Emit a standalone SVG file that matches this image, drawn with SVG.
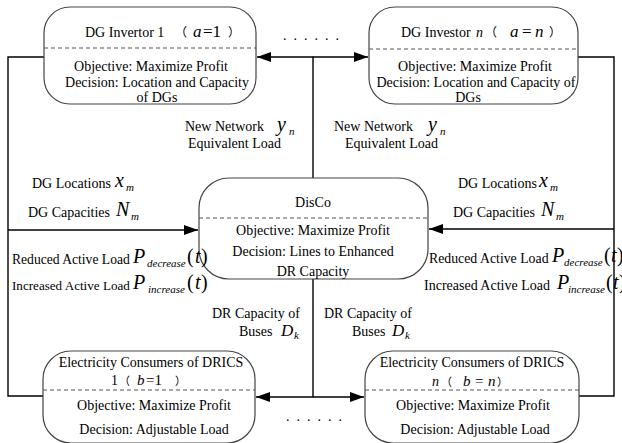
<svg xmlns="http://www.w3.org/2000/svg" width="622" height="443" viewBox="0 0 622 443">
<defs>
<marker id="arr" markerUnits="userSpaceOnUse" markerWidth="14" markerHeight="10" refX="14" refY="5" orient="auto">
<path d="M0,0 L14,5 L0,10 z" fill="#000"/>
</marker>
<style>
.box{fill:#fff;stroke:#444;stroke-width:1.2}
.dash{stroke:#555;stroke-width:1.1;stroke-dasharray:4,3;fill:none}
.line{stroke:#000;stroke-width:1.4;fill:none}
text{font-family:"Liberation Serif","Times New Roman","DejaVu Serif",serif;font-size:14px;fill:#000}
.m{font-style:italic}
.big{font-size:20px}
.mid{font-size:17px}
.sm{font-size:15px}
.sub{font-size:11px;font-style:italic}
.cjk{font-family:"Noto Sans CJK SC",sans-serif;font-size:12px;font-style:normal}
.cjks{font-family:"Noto Sans CJK SC",sans-serif;font-size:11px;font-style:normal}
.dots{font-size:14px;letter-spacing:7px}
</style>
</defs>
<rect width="622" height="443" fill="#fff"/>
<g id="connectors">
<path class="line" d="M313,179 V57 H257" marker-end="url(#arr)"/>
<path class="line" d="M313,57 H368" marker-end="url(#arr)"/>
<path class="line" d="M44,57 H8 V396 H43"/>
<path class="line" d="M8,230 H198" marker-end="url(#arr)"/>
<path class="line" d="M578,57 H614 V396 H579"/>
<path class="line" d="M614,229 H429" marker-end="url(#arr)"/>
<path class="line" d="M313,279 V397 H256" marker-end="url(#arr)"/>
<path class="line" d="M313,397 H364" marker-end="url(#arr)"/>
</g>
<g id="dg1">
<rect class="box" x="44" y="7" width="212" height="97" rx="26" ry="26"/>
<line class="dash" x1="44" y1="48" x2="256" y2="48"/>
<text x="85" y="37">DG  Invertor 1<tspan class="cjk" x="175">（</tspan><tspan class="m mid" x="193">a</tspan><tspan class="mid" x="203">=1</tspan><tspan class="cjk" x="228">）</tspan></text>
<text x="151" y="71" text-anchor="middle">Objective: Maximize Profit</text>
<text x="157" y="87" text-anchor="middle">Decision:  Location and Capacity</text>
<text x="157" y="102" text-anchor="middle">of DGs</text>
</g>
<g id="dgn">
<rect class="box" x="369" y="7" width="209" height="97" rx="26" ry="26"/>
<line class="dash" x1="369" y1="49" x2="578" y2="49"/>
<text x="401" y="37">DG  Investor<tspan class="m" x="476">n</tspan><tspan class="cjk" x="485">（</tspan><tspan class="m mid" x="510">a</tspan><tspan class="mid" x="522">=</tspan><tspan class="m mid" x="535">n</tspan><tspan class="cjk" x="549">）</tspan></text>
<text x="475" y="71" text-anchor="middle">Objective: Maximize Profit</text>
<text x="476" y="87" text-anchor="middle">Decision:  Location and Capacity of</text>
<text x="468" y="102" text-anchor="middle">DGs</text>
</g>
<g id="disco">
<rect class="box" x="199" y="178" width="229" height="101" rx="30" ry="30"/>
<line class="dash" x1="199" y1="218" x2="428" y2="218"/>
<text x="313" y="207" text-anchor="middle">DisCo</text>
<text x="313" y="235" text-anchor="middle">Objective: Maximize Profit</text>
<text x="313" y="256" text-anchor="middle">Decision: Lines to Enhanced</text>
<text x="313" y="276" text-anchor="middle">DR Capacity</text>
</g>
<g id="ec1">
<rect class="box" x="43" y="351" width="212" height="92" rx="28" ry="28"/>
<line class="dash" x1="43" y1="390" x2="255" y2="390"/>
<text x="151" y="367" text-anchor="middle">Electricity Consumers of DRICS</text>
<text x="111" y="385">1<tspan class="cjks" x="119">（</tspan><tspan class="m sm" x="137">b</tspan><tspan class="sm" x="146">=1</tspan><tspan class="cjks" x="175">）</tspan></text>
<text x="154" y="410" text-anchor="middle">Objective: Maximize Profit</text>
<text x="154" y="434" text-anchor="middle">Decision:  Adjustable Load</text>
</g>
<g id="ecn">
<rect class="box" x="365" y="351" width="214" height="92" rx="28" ry="28"/>
<line class="dash" x1="365" y1="390" x2="579" y2="390"/>
<text x="472" y="367" text-anchor="middle">Electricity Consumers of DRICS</text>
<text x="432" y="386"><tspan class="m">n</tspan><tspan class="cjks" x="441">（</tspan><tspan class="m sm" x="463">b</tspan><tspan class="sm" x="475">=</tspan><tspan class="m sm" x="488">n</tspan><tspan class="cjks" x="497">）</tspan></text>
<text x="473" y="410" text-anchor="middle">Objective: Maximize Profit</text>
<text x="475" y="434" text-anchor="middle">Decision:  Adjustable Load</text>
</g>
<g id="labels">
<text class="dots" x="283" y="40">......</text>
<text class="dots" x="286" y="421">......</text>
<text x="185" y="131">New Network<tspan class="m big" x="277">y</tspan><tspan class="sub" x="289" dy="4">n</tspan></text>
<text x="188" y="148">Equivalent Load</text>
<text x="334" y="131">New Network<tspan class="m big" x="428">y</tspan><tspan class="sub" x="440" dy="4">n</tspan></text>
<text x="345" y="148">Equivalent Load</text>
<text x="32" y="188">DG Locations<tspan class="m big" x="115" dy="-1">x</tspan><tspan class="sub" x="126" dy="4">m</tspan></text>
<text x="28" y="217">DG Capacities<tspan class="m big" x="116" dy="-1">N</tspan><tspan class="sub" x="131" dy="4">m</tspan></text>
<text x="12" y="264"><tspan style="font-size:13.6px">Reduced Active Load</tspan><tspan class="m big" x="133" dy="-1">P</tspan><tspan class="sub" x="147" dy="4">decrease</tspan><tspan class="big" x="187" dy="-4">(</tspan><tspan class="m big" x="195">t</tspan><tspan class="big" x="201">)</tspan></text>
<text x="12" y="290"><tspan style="font-size:13.1px">Increased Active Load</tspan><tspan class="m big" x="133" dy="-1">P</tspan><tspan class="sub" x="148" dy="4">increase</tspan><tspan class="big" x="187" dy="-4">(</tspan><tspan class="m big" x="195">t</tspan><tspan class="big" x="201">)</tspan></text>
<text x="458" y="188">DG Locations<tspan class="m big" x="539" dy="-1">x</tspan><tspan class="sub" x="550" dy="4">m</tspan></text>
<text x="453" y="217">DG Capacities<tspan class="m big" x="541" dy="-1">N</tspan><tspan class="sub" x="556" dy="4">m</tspan></text>
<text x="429" y="263"><tspan style="font-size:13.8px">Reduced Active Load</tspan><tspan class="m big" x="552" dy="-1">P</tspan><tspan class="sub" x="564" dy="4">decrease</tspan><tspan class="big" x="604" dy="-4">(</tspan><tspan class="m big" x="611">t</tspan><tspan class="big" x="617">)</tspan></text>
<text x="424" y="290">Increased Active Load<tspan class="m big" x="557" dy="-1">P</tspan><tspan class="sub" x="568" dy="4">increase</tspan><tspan class="big" x="606" dy="-4">(</tspan><tspan class="m big" x="613">t</tspan><tspan class="big" x="619">)</tspan></text>
<text x="212" y="318">DR Capacity of</text>
<text x="239" y="336">Buses<tspan class="m mid" x="281">D</tspan><tspan class="sub" x="294" dy="3">k</tspan></text>
<text x="324" y="318">DR Capacity of</text>
<text x="352" y="336">Buses<tspan class="m mid" x="392">D</tspan><tspan class="sub" x="405" dy="3">k</tspan></text>
</g>
</svg>
